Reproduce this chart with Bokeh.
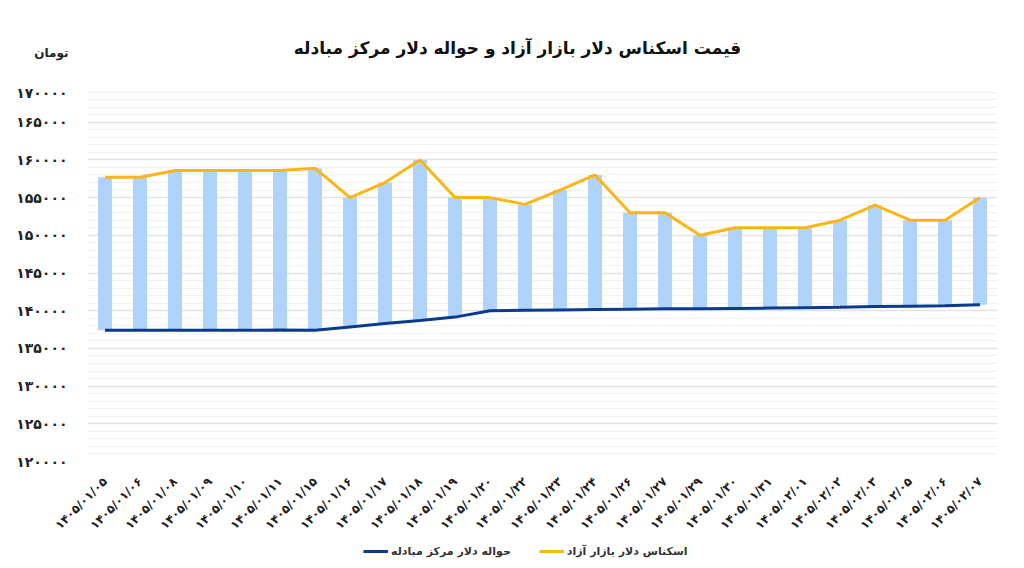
import math
from bokeh.plotting import figure
from bokeh.layouts import column
from bokeh.models import (ColumnDataSource, Legend, LegendItem, Label, FixedTicker,
                          Range1d, FactorRange)
from bokeh.embed import file_html
from bokeh.resources import INLINE

FA = str.maketrans("0123456789", "۰۱۲۳۴۵۶۷۸۹")

dates = ["1405/01/05", "1405/01/06", "1405/01/08", "1405/01/09", "1405/01/10",
         "1405/01/11", "1405/01/15", "1405/01/16", "1405/01/17", "1405/01/18",
         "1405/01/19", "1405/01/20", "1405/01/22", "1405/01/23", "1405/01/24",
         "1405/01/26", "1405/01/27", "1405/01/29", "1405/01/30", "1405/01/31",
         "1405/02/01", "1405/02/02", "1405/02/03", "1405/02/05", "1405/02/06",
         "1405/02/07"]

free_market = [157700, 157700, 158600, 158600, 158600, 158600, 158900, 155000,
               157000, 160000, 155000, 155000, 154100, 156000, 158000, 153000,
               153000, 150000, 151000, 151000, 151000, 152000, 154000, 152000,
               152000, 155000]

havaleh = [137400, 137400, 137400, 137400, 137400, 137450, 137400, 137850,
           138300, 138700, 139150, 140000, 140050, 140100, 140150, 140200,
           140250, 140250, 140300, 140350, 140400, 140450, 140550, 140600,
           140650, 140800]

y_ticks = [120000, 125000, 130000, 135000, 140000, 145000, 150000, 155000,
           160000, 165000, 170000]

title_text = "قیمت اسکناس دلار بازار آزاد و حواله دلار مرکز مبادله"
unit_text = "تومان"
name_free = "اسکناس دلار بازار آزاد"
name_hav = "حواله دلار مرکز مبادله"

labels = [d.translate(FA) for d in dates]
src = ColumnDataSource(dict(x=labels, top=free_market, bottom=havaleh))

FONT = "DejaVu Sans"
W = 1008
HEAD_H = 84
MAIN_H = 456
FOOT_H = 20
LEFT = 87
RIGHT = 11

HAV_COLOR = "#0b3b8c"
FREE_COLOR = "#fbb514"


def bare(fig):
    fig.grid.visible = False
    fig.outline_line_color = None


# ---- header: title + unit (unit drawn as the single tick label of a y-axis) ----
head = figure(width=W, height=HEAD_H, output_backend="svg", toolbar_location=None,
              x_range=Range1d(LEFT, W - RIGHT), y_range=Range1d(0, HEAD_H),
              min_border_left=LEFT, min_border_right=RIGHT,
              min_border_top=0, min_border_bottom=0)
bare(head)
head.xaxis.visible = False
head.yaxis.ticker = FixedTicker(ticks=[32], minor_ticks=[])
head.yaxis.major_label_overrides = {32: unit_text}
head.yaxis.axis_line_color = None
head.yaxis.major_tick_line_color = None
head.yaxis.minor_tick_line_color = None
head.yaxis.major_label_standoff = 13
head.yaxis.major_label_text_font = FONT
head.yaxis.major_label_text_font_size = "12px"
head.yaxis.major_label_text_font_style = "bold"
head.yaxis.major_label_text_color = "#222222"
head.add_layout(Label(x=517, y=37, text=title_text, text_font=FONT,
                      text_font_size="17px", text_font_style="bold",
                      text_align="center", text_baseline="middle", text_color="#111111"))

# ---- main chart ----
p = figure(width=W, height=MAIN_H, output_backend="svg", toolbar_location=None,
           x_range=FactorRange(factors=labels, range_padding=0),
           y_range=Range1d(120000, 170000),
           min_border_left=LEFT, min_border_right=RIGHT, min_border_top=0,
           min_border_bottom=79)
p.outline_line_color = None

p.vbar(x="x", top="top", bottom="bottom", width=0.4, source=src,
       fill_color="#b0d3fa", line_color=None)
p.line(x="x", y="bottom", source=src, line_color=HAV_COLOR, line_width=3)
p.line(x="x", y="top", source=src, line_color=FREE_COLOR, line_width=3)

p.yaxis.ticker = FixedTicker(ticks=y_ticks, minor_ticks=list(range(120000, 170001, 1000)))
p.yaxis.major_label_overrides = {t: str(t).translate(FA) for t in y_ticks}
p.yaxis.axis_line_color = None
p.yaxis.major_tick_line_color = None
p.yaxis.minor_tick_line_color = None
p.yaxis.major_label_standoff = 14
p.yaxis.major_label_text_font = FONT
p.yaxis.major_label_text_font_size = "14px"
p.yaxis.major_label_text_font_style = "bold"
p.yaxis.major_label_text_color = "#222222"

p.xaxis.axis_line_color = None
p.xaxis.major_tick_line_color = None
p.xaxis.minor_tick_line_color = None
p.xaxis.major_label_orientation = math.pi / 4
p.xaxis.major_label_standoff = 12
p.xaxis.major_label_text_font = FONT
p.xaxis.major_label_text_font_size = "12px"
p.xaxis.major_label_text_font_style = "bold"
p.xaxis.major_label_text_color = "#222222"

p.xgrid.grid_line_color = None
p.ygrid.grid_line_color = "#e3e3e3"
p.ygrid.grid_line_width = 1.5
p.ygrid.minor_grid_line_color = "#f1f1f1"

# ---- footer: legend ----
foot = figure(width=W, height=FOOT_H, output_backend="svg", toolbar_location=None,
              x_range=FactorRange(factors=labels, range_padding=0),
              y_range=Range1d(0, 1),
              min_border_left=LEFT, min_border_right=RIGHT,
              min_border_top=0, min_border_bottom=0)
bare(foot)
foot.axis.visible = False
f_hav = foot.line(x="x", y="bottom", source=src, line_color=HAV_COLOR, line_width=3)
f_free = foot.line(x="x", y="top", source=src, line_color=FREE_COLOR, line_width=3)

legend = Legend(items=[LegendItem(label=name_hav, renderers=[f_hav]),
                       LegendItem(label=name_free, renderers=[f_free])],
                orientation="horizontal", location=(276, 1),
                label_text_font=FONT, label_text_font_size="11px",
                label_text_font_style="bold", label_text_color="#333333",
                label_height=16, label_standoff=3,
                glyph_width=25, glyph_height=16, spacing=28, padding=0, margin=0,
                border_line_color=None, background_fill_alpha=0)
foot.add_layout(legend, "center")

layout = column(head, p, foot, spacing=0)
open("out.html", "w").write(file_html(layout, INLINE))
